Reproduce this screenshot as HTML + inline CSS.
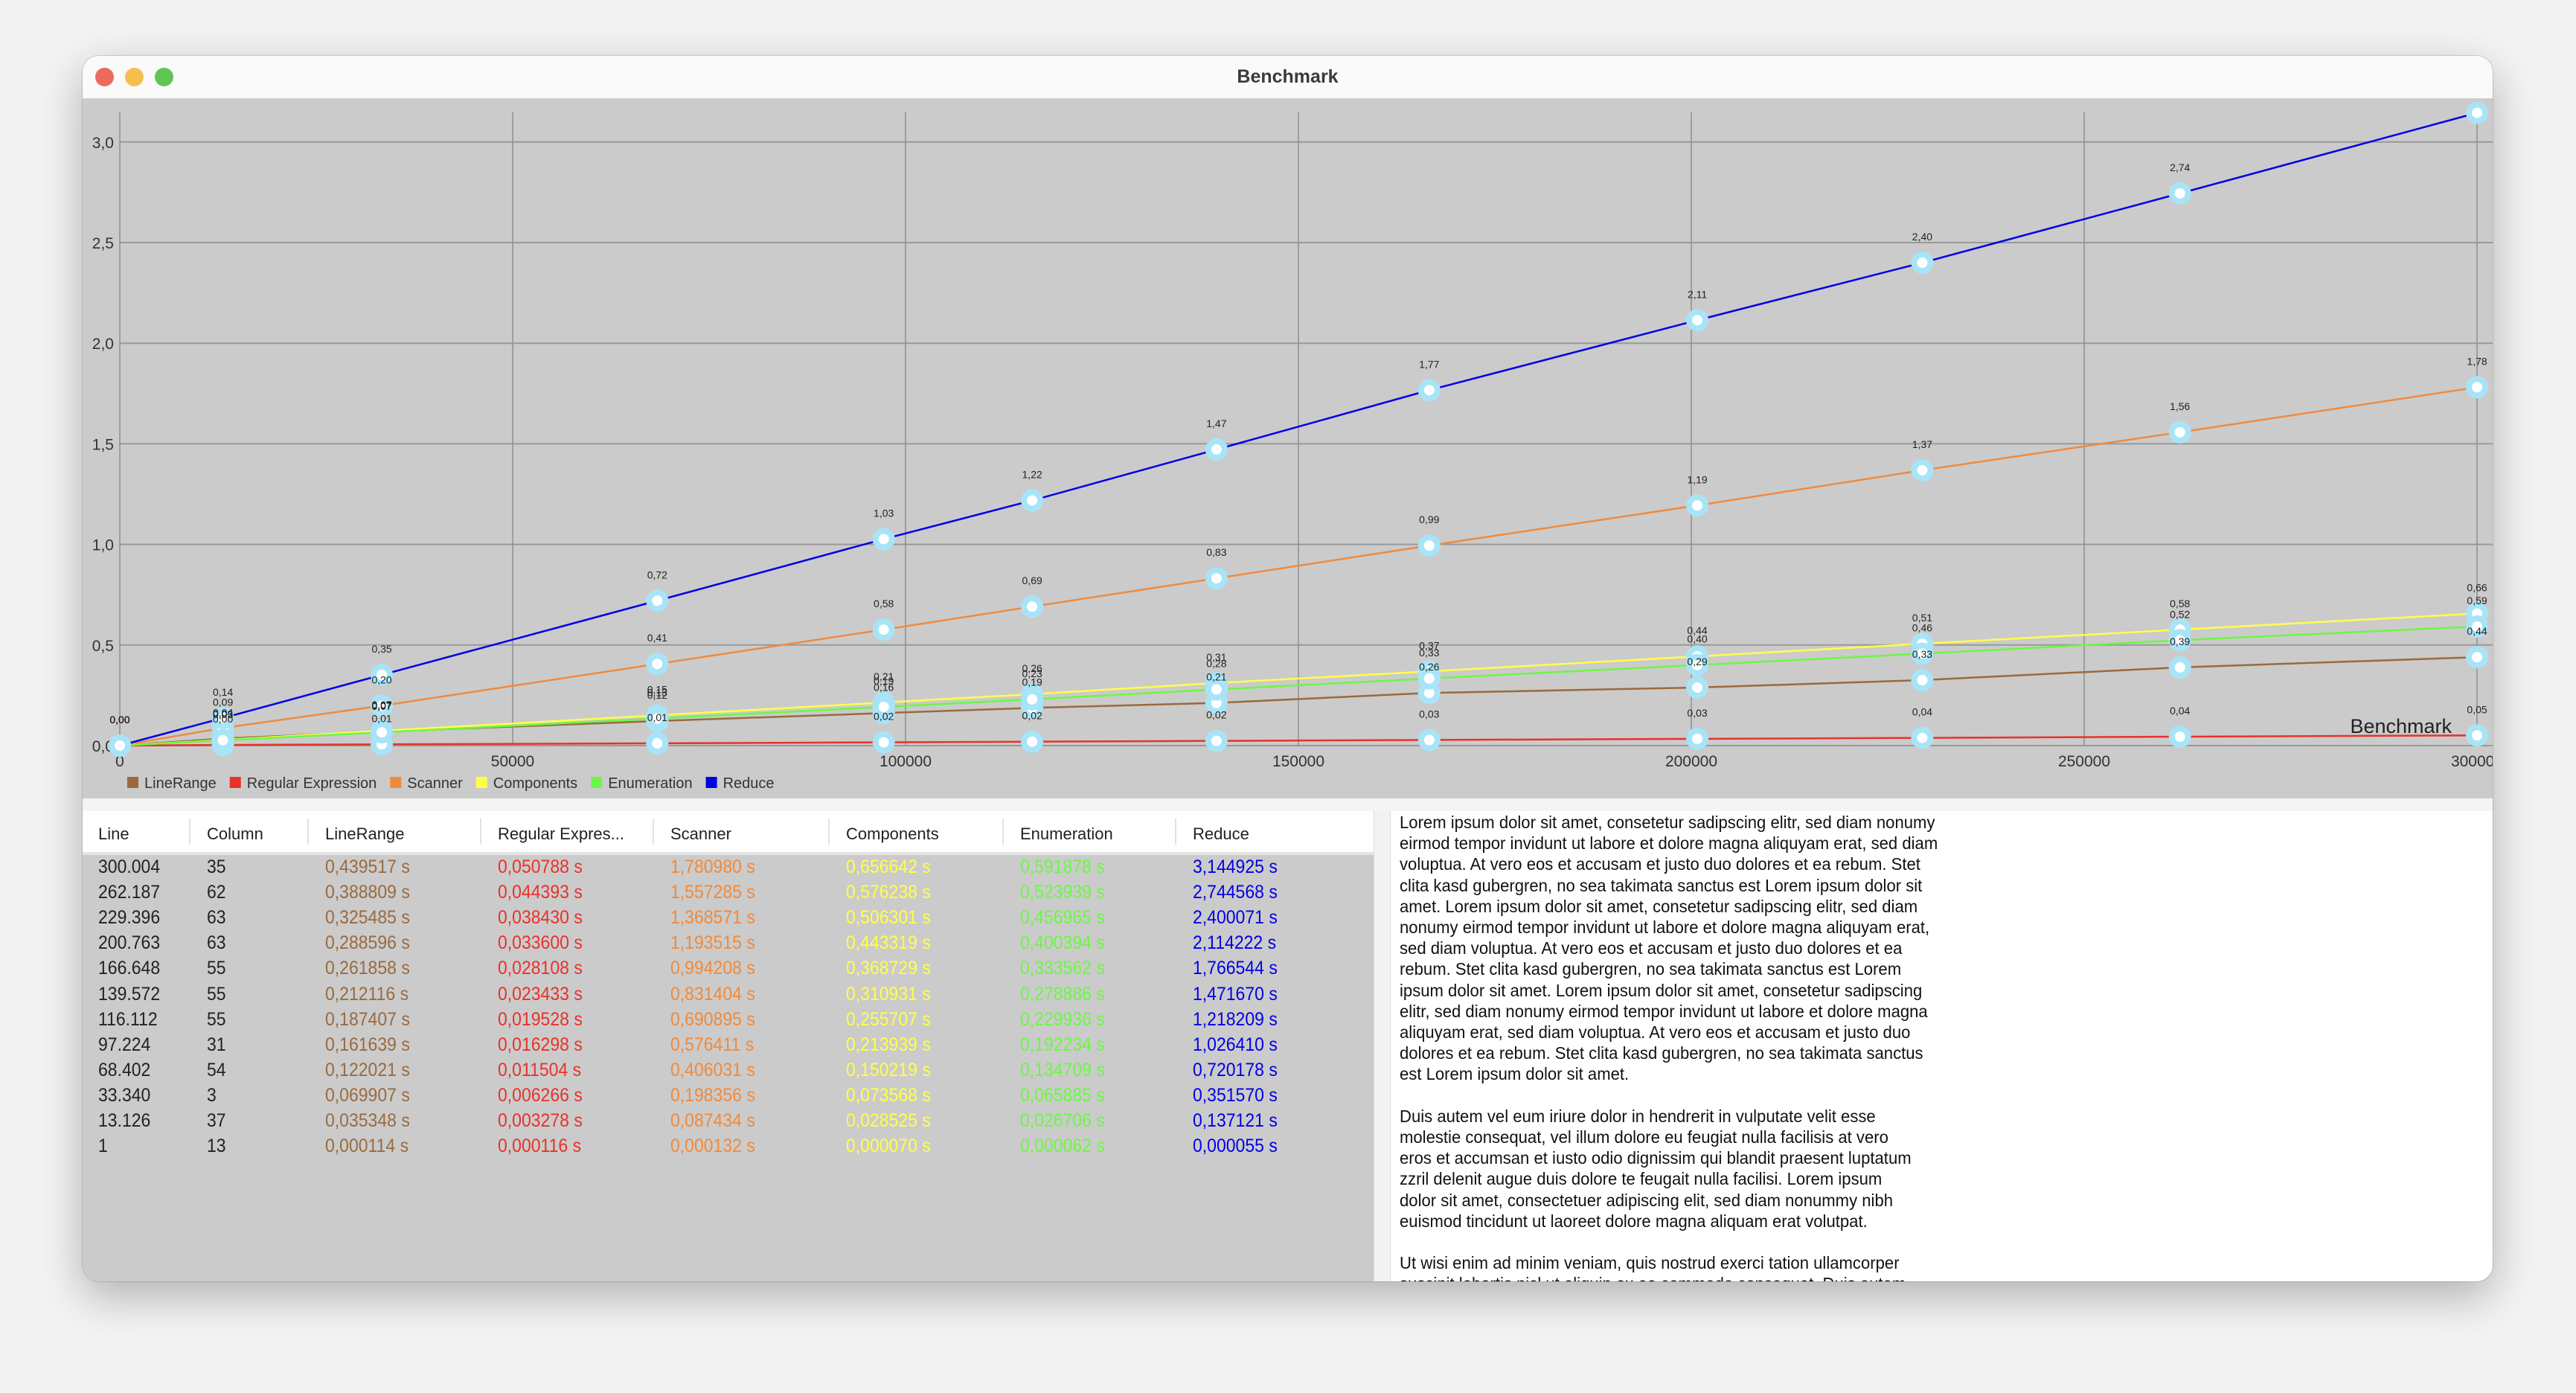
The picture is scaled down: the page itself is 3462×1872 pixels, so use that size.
<!DOCTYPE html>
<html><head><meta charset="utf-8">
<style>
html,body{margin:0;padding:0;width:3462px;height:1872px;overflow:hidden;background:#f3f3f3;font-family:"Liberation Sans",Arial,sans-serif;}
#win{position:absolute;left:111px;top:75px;width:3239px;height:1647px;border-radius:22px;overflow:hidden;background:#cbcbcb;box-shadow:0 20px 60px rgba(0,0,0,0.28),0 0 0 1px rgba(0,0,0,0.12);}
#titlebar{position:absolute;left:0;top:0;width:100%;height:57px;background:#fafafa;border-bottom:1px solid #d0d0d0;}
.light{position:absolute;top:16px;width:25px;height:25px;border-radius:50%;}
#title{position:absolute;left:0;width:100%;top:14px;text-align:center;font-weight:bold;font-size:25px;color:#3a3a3a;}
#chart{position:absolute;left:0;top:58px;}
#strip{position:absolute;left:0;top:998px;width:100%;height:17px;background:#f4f4f4;}
#table{position:absolute;left:0;top:1015px;width:1735px;height:632px;background:#cbcbcb;}
#thead{position:absolute;left:0;top:0;width:100%;height:55px;background:#fff;border-bottom:4px solid #e4e4e4;}
.th{position:absolute;top:18px;font-size:22px;color:#222;}
.sep{position:absolute;top:10px;width:2px;height:35px;background:#e2e2e2;}
.cell{position:absolute;font-size:25px;white-space:nowrap;transform:scaleX(0.92);transform-origin:left;}
#divider{position:absolute;left:1735px;top:1015px;width:22px;height:632px;background:#f2f2f2;border-left:1px solid #ddd;}
#text{position:absolute;left:1757px;top:1015px;width:1482px;height:632px;background:#fff;overflow:hidden;border-left:1px solid #ddd;}
#textin{position:absolute;left:12px;top:1px;font-size:23.5px;line-height:28.2px;color:#111;white-space:nowrap;transform:scaleX(0.94);transform-origin:left top;}
</style></head><body>
<div id="win">
 <div id="titlebar">
  <div class="light" style="left:17px;background:#ec6a5e"></div>
  <div class="light" style="left:57px;background:#f4bf4f"></div>
  <div class="light" style="left:97px;background:#61c554"></div>
  <div id="title">Benchmark</div>
 </div>
 <svg id="chart" width="3239" height="940"></svg>
 <div id="strip"></div>
 <div id="table">
  <div id="thead"></div>
 </div>
 <div id="divider"></div>
 <div id="text"><div id="textin">Lorem ipsum dolor sit amet, consetetur sadipscing elitr, sed diam nonumy<br>eirmod tempor invidunt ut labore et dolore magna aliquyam erat, sed diam<br>voluptua. At vero eos et accusam et justo duo dolores et ea rebum. Stet<br>clita kasd gubergren, no sea takimata sanctus est Lorem ipsum dolor sit<br>amet. Lorem ipsum dolor sit amet, consetetur sadipscing elitr, sed diam<br>nonumy eirmod tempor invidunt ut labore et dolore magna aliquyam erat,<br>sed diam voluptua. At vero eos et accusam et justo duo dolores et ea<br>rebum. Stet clita kasd gubergren, no sea takimata sanctus est Lorem<br>ipsum dolor sit amet. Lorem ipsum dolor sit amet, consetetur sadipscing<br>elitr, sed diam nonumy eirmod tempor invidunt ut labore et dolore magna<br>aliquyam erat, sed diam voluptua. At vero eos et accusam et justo duo<br>dolores et ea rebum. Stet clita kasd gubergren, no sea takimata sanctus<br>est Lorem ipsum dolor sit amet.<br><br>Duis autem vel eum iriure dolor in hendrerit in vulputate velit esse<br>molestie consequat, vel illum dolore eu feugiat nulla facilisis at vero<br>eros et accumsan et iusto odio dignissim qui blandit praesent luptatum<br>zzril delenit augue duis dolore te feugait nulla facilisi. Lorem ipsum<br>dolor sit amet, consectetuer adipiscing elit, sed diam nonummy nibh<br>euismod tincidunt ut laoreet dolore magna aliquam erat volutpat.<br><br>Ut wisi enim ad minim veniam, quis nostrud exerci tation ullamcorper<br>suscipit lobortis nisl ut aliquip ex ea commodo consequat. Duis autem</div></div>
</div>
<script>
const lines = [300004,262187,229396,200763,166648,139572,116112,97224,68402,33340,13126,1];
const columns = [35,62,63,63,55,55,55,31,54,3,37,13];
const seriesNames = ["LineRange","Regular Expression","Scanner","Components","Enumeration","Reduce"];
const seriesColors = ["#9a6a3e","#e8322a","#f08a3c","#ffff4a","#6cf745","#0000e6"];
const lineRange = [0.439517,0.388809,0.325485,0.288596,0.261858,0.212116,0.187407,0.161639,0.122021,0.069907,0.035348,0.000114];
const regex = [0.050788,0.044393,0.038430,0.033600,0.028108,0.023433,0.019528,0.016298,0.011504,0.006266,0.003278,0.000116];
const scanner = [1.780980,1.557285,1.368571,1.193515,0.994208,0.831404,0.690895,0.576411,0.406031,0.198356,0.087434,0.000132];
const components = [0.656642,0.576238,0.506301,0.443319,0.368729,0.310931,0.255707,0.213939,0.150219,0.073568,0.028525,0.000070];
const enumeration = [0.591878,0.523939,0.456965,0.400394,0.333562,0.278886,0.229936,0.192234,0.134709,0.065885,0.026706,0.000062];
const reduce = [3.144925,2.744568,2.400071,2.114222,1.766544,1.471670,1.218209,1.026410,0.720178,0.351570,0.137121,0.000055];
const yTicks = [0,0.5,1.0,1.5,2.0,2.5,3.0];
const xTicks = [0,50000,100000,150000,200000,250000,300000];
const series = [lineRange,regex,scanner,components,enumeration,reduce];

const NS="http://www.w3.org/2000/svg";
const svg=document.getElementById('chart');
const X0=50, XPER=528/50000, Y0=869, YPER=270.4;
function sx(v){return X0+v*XPER;}
function sy(v){return Y0-v*YPER;}
function mk(tag,attrs,parent){const e=document.createElementNS(NS,tag);for(const k in attrs)e.setAttribute(k,attrs[k]);(parent||svg).appendChild(e);return e;}
function fmt(v,d){return v.toFixed(d).replace('.',',');}

yTicks.forEach(t=>{
  const l=mk('line',{x1:X0,x2:3239,y1:sy(t),y2:sy(t),stroke:'#999',"stroke-width":2});
  
  
  const tx=mk('text',{x:X0-8,y:sy(t)+8,"text-anchor":"end","font-size":21,fill:'#333'});
  tx.textContent=fmt(t,1);
  
  
});
xTicks.forEach(t=>{
  const l=mk('line',{x1:sx(t),x2:sx(t),y1:18,y2:Y0,stroke:'#8f8f8f',"stroke-width":1.5});
  
  
  const tx=mk('text',{x:sx(t),y:Y0+28,"text-anchor":"middle","font-size":21,fill:'#333'});
  tx.textContent=String(t);
  
  
});
const bm=mk('text',{x:3184,y:852,"text-anchor":"end","font-size":27,fill:'#222'});
bm.textContent='Benchmark';



series.forEach((s,i)=>{
  const pts=s.map((v,j)=>sx(lines[j])+','+sy(v)).join(' ');
  const pl=mk('polyline',{points:pts,fill:'none',stroke:seriesColors[i],"stroke-width":2.5});
  
  
});
series.forEach((s,i)=>{
  s.forEach((v,j)=>{
    const c=mk('circle',{cx:sx(lines[j]),cy:sy(v),r:15,fill:'#a8e4f8'});
    
    
    const c2=mk('circle',{cx:sx(lines[j]),cy:sy(v),r:7,fill:'#fff'});
    
    
  });
});
series.forEach((s,i)=>{
  s.forEach((v,j)=>{
    const t=mk('text',{x:sx(lines[j]),y:sy(v)-30,"text-anchor":"middle","font-size":14,fill:'#222'});
    t.textContent=fmt(v,2);
    
    
  });
});
let lx=60;
seriesNames.forEach((n,i)=>{
  const r=mk('rect',{x:lx,y:911,width:15,height:15,fill:seriesColors[i]});
  
  
  const t=mk('text',{x:lx+23,y:926,"font-size":20,fill:'#333'});
  t.textContent=n;
  
  
  lx+=23+t.getComputedTextLength()+18;
});

const headers=["Line","Column","LineRange","Regular Expres...","Scanner","Components","Enumeration","Reduce"];
const colX=[21,167,326,558,790,1026,1260,1492];
const thead=document.getElementById('thead');
headers.forEach((h,i)=>{
  if(i>0){const sp=document.createElement('div');sp.className='sep';sp.style.left=(colX[i]-24)+'px';
    
    
    thead.appendChild(sp);}
  const d=document.createElement('div');d.className='th';d.style.left=colX[i]+'px';d.textContent=h;
  
  
  thead.appendChild(d);
});
const table=document.getElementById('table');
const cellColors=["#222","#222"].concat(seriesColors);
lines.forEach((ln,j)=>{
  const vals=[ln.toLocaleString('de-DE'),String(columns[j])].concat(series.map(s=>fmt(s[j],6)+' s'));
  vals.forEach((v,i)=>{
    const d=document.createElement('div');d.className='cell';
    d.style.left=colX[i]+'px';d.style.top=(61+j*34.1)+'px';d.style.color=cellColors[i];
    d.textContent=v;
    
    
    table.appendChild(d);
  });
});
</script>
</body></html>
